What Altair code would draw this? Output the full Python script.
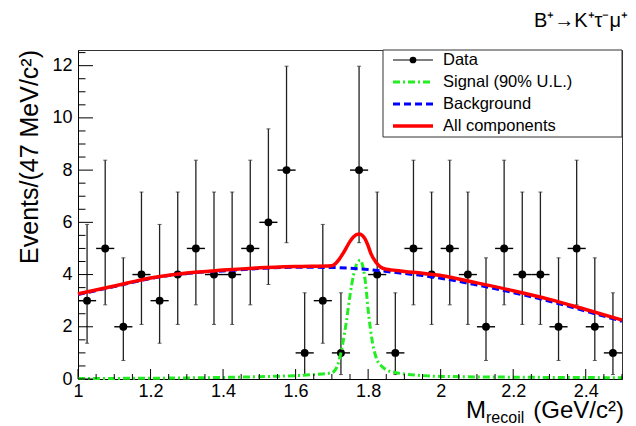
import altair as alt
import pandas as pd

# ---------------- data ----------------
x_centers = [1.025, 1.075, 1.125, 1.175, 1.225, 1.275, 1.325, 1.375, 1.425, 1.475,
             1.525, 1.575, 1.625, 1.675, 1.725, 1.775, 1.825, 1.875, 1.925, 1.975,
             2.025, 2.075, 2.125, 2.175, 2.225, 2.275, 2.325, 2.375, 2.425, 2.475]
counts = [3, 5, 2, 4, 3, 4, 5, 4, 4, 5,
          6, 8, 1, 3, 1, 8, 4, 1, 5, 4,
          5, 4, 2, 5, 4, 4, 2, 5, 2, 1]
err_low = [1.37, 2.84, 0.71, 2.09, 1.37, 2.09, 2.84, 2.09, 2.09, 2.84,
           3.62, 5.22, 0.17, 1.37, 0.17, 5.22, 2.09, 0.17, 2.84, 2.09,
           2.84, 2.09, 0.71, 2.84, 2.09, 2.09, 0.71, 2.84, 0.71, 0.17]
err_high = [5.92, 8.38, 4.64, 7.16, 5.92, 7.16, 8.38, 7.16, 7.16, 8.38,
            9.58, 11.98, 3.30, 5.92, 3.30, 11.98, 7.16, 3.30, 8.38, 7.16,
            8.38, 7.16, 4.64, 8.38, 7.16, 7.16, 4.64, 8.38, 4.64, 3.30]
bin_half = 0.025

sig_x = [1.0, 1.2, 1.4, 1.5, 1.6, 1.65, 1.7, 1.715, 1.72, 1.73, 1.74, 1.75, 1.76, 1.77,
         1.779, 1.787, 1.793, 1.80, 1.806, 1.812, 1.824, 1.838, 1.852, 1.875, 1.9,
         1.95, 2.0, 2.2, 2.5]
sig_y = [0.02, 0.03, 0.06, 0.09, 0.13, 0.17, 0.24, 0.5, 0.72, 1.35, 2.2, 3.2, 4.0, 4.45,
         4.55, 4.2, 3.65, 2.65, 1.95, 1.4, 0.75, 0.48, 0.34, 0.25, 0.19,
         0.13, 0.1, 0.07, 0.05]

bkg_x = [1.0, 1.1, 1.2, 1.3, 1.4, 1.5, 1.6, 1.7, 1.75, 1.8, 1.85, 1.9, 1.95, 2.0,
         2.1, 2.2, 2.3, 2.4, 2.5]
bkg_y = [3.23, 3.54, 3.85, 4.04, 4.14, 4.23, 4.28, 4.27, 4.24, 4.19, 4.12, 4.04, 3.96, 3.86,
         3.60, 3.31, 2.98, 2.60, 2.21]

all_x = [1.0, 1.1, 1.2, 1.3, 1.4, 1.5, 1.6, 1.7, 1.71, 1.72, 1.73, 1.74, 1.75, 1.76,
         1.775, 1.79, 1.80, 1.808, 1.82, 1.835, 1.85, 1.87, 1.9, 1.95, 2.0,
         2.1, 2.2, 2.3, 2.4, 2.5]
all_y = [3.26, 3.56, 3.87, 4.06, 4.17, 4.26, 4.31, 4.34, 4.42, 4.58, 4.79, 5.03, 5.27, 5.45,
         5.55, 5.4, 5.1, 4.79, 4.5, 4.28, 4.2, 4.17, 4.12, 4.05, 3.96,
         3.68, 3.38, 3.05, 2.66, 2.26]

x_major = [1.0, 1.2, 1.4, 1.6, 1.8, 2.0, 2.2, 2.4]
x_minor = [1.05, 1.1, 1.15, 1.25, 1.3, 1.35, 1.45, 1.5, 1.55, 1.65, 1.7, 1.75,
           1.85, 1.9, 1.95, 2.05, 2.1, 2.15, 2.25, 2.3, 2.35, 2.45, 2.5]
y_major = [0, 2, 4, 6, 8, 10, 12]
y_minor = [0.5, 1, 1.5, 2.5, 3, 3.5, 4.5, 5, 5.5, 6.5, 7, 7.5, 8.5, 9, 9.5,
           10.5, 11, 11.5, 12.5]

legend_labels = ["Data", "Signal (90% U.L.)", "Background", "All components"]

# ---------------- chart ----------------
W, H = 544, 329
FONT = "Liberation Sans"
xs = alt.Scale(domain=[1, 2.5], nice=False, zero=False)
ys = alt.Scale(domain=[0, 12.6], nice=False, zero=False)

x_axis = alt.Axis(values=x_major, format=".1~f", title=None, ticks=False, grid=False,
                  labelFontSize=18, labelPadding=3, labelFlush=False, labelFont=FONT,
                  labelColor="black", domainColor="black", domainWidth=1)
y_axis = alt.Axis(values=y_major, format="d", title=None, ticks=False, grid=False,
                  labelFontSize=18, labelPadding=6, labelFlush=False, labelFont=FONT,
                  labelColor="black", domainColor="black", domainWidth=1)

df = pd.DataFrame({
    "x": x_centers, "y": counts, "lo": err_low, "hi": err_high,
    "xl": [c - bin_half for c in x_centers], "xh": [c + bin_half for c in x_centers],
})
one = pd.DataFrame({"a": [0]})


def X(f):
    return alt.X(f, type="quantitative", scale=xs, axis=x_axis)


def Y(f):
    return alt.Y(f, type="quantitative", scale=ys, axis=y_axis)


vbars = alt.Chart(df).mark_rule(color="#222222", strokeWidth=1.3).encode(
    x=X("x"), y=Y("lo"), y2="hi")
hbars = alt.Chart(df).mark_rule(color="black", strokeWidth=1.4).encode(
    x=X("xl"), x2="xh", y=Y("y"))
caps_lo = alt.Chart(df).mark_tick(orient="horizontal", size=4, thickness=1, color="#222222").encode(
    x=X("x"), y=Y("lo"))
caps_hi = alt.Chart(df).mark_tick(orient="horizontal", size=4, thickness=1, color="#222222").encode(
    x=X("x"), y=Y("hi"))
points = alt.Chart(df).mark_circle(size=62, color="black", opacity=1).encode(
    x=X("x"), y=Y("y"))

sig = alt.Chart(pd.DataFrame({"x": sig_x, "y": sig_y})).mark_line(
    color="#22ee22", strokeWidth=3, strokeDash=[7, 3, 2, 3], interpolate="monotone").encode(
    x=X("x"), y=Y("y"))
bkg = alt.Chart(pd.DataFrame({"x": bkg_x, "y": bkg_y})).mark_line(
    color="#0000ff", strokeWidth=3, strokeDash=[7, 4], interpolate="monotone").encode(
    x=X("x"), y=Y("y"))
tot = alt.Chart(pd.DataFrame({"x": all_x, "y": all_y})).mark_line(
    color="#ff0000", strokeWidth=3.5, interpolate="monotone").encode(
    x=X("x"), y=Y("y"))

# inward ticks
xt_major = alt.Chart(pd.DataFrame({"v": x_major})).mark_rule(color="black", strokeWidth=1).encode(
    x=X("v"), y=alt.value(H), y2=alt.value(H - 10))
xt_minor = alt.Chart(pd.DataFrame({"v": x_minor})).mark_rule(color="black", strokeWidth=1).encode(
    x=X("v"), y=alt.value(H), y2=alt.value(H - 5))
yt_major = alt.Chart(pd.DataFrame({"v": y_major})).mark_rule(color="black", strokeWidth=1).encode(
    y=Y("v"), x=alt.value(0), x2=alt.value(15))
yt_minor = alt.Chart(pd.DataFrame({"v": y_minor})).mark_rule(color="black", strokeWidth=1).encode(
    y=Y("v"), x=alt.value(0), x2=alt.value(7.5))

# legend
LX0, LX1 = 305, W
ly = [10, 32, 54, 76]
leg_box = alt.Chart(one).mark_rect(fill="white", stroke="#333333", strokeWidth=1).encode(
    x=alt.value(LX0), x2=alt.value(LX1), y=alt.value(0), y2=alt.value(87))
leg_items = [leg_box]
styles = [
    dict(color="black", strokeWidth=1.2),
    dict(color="#22ee22", strokeWidth=3, strokeDash=[7, 3, 2, 3]),
    dict(color="#0000ff", strokeWidth=3, strokeDash=[7, 4]),
    dict(color="#ff0000", strokeWidth=3.5),
]
for i, (lab, st) in enumerate(zip(legend_labels, styles)):
    leg_items.append(alt.Chart(one).mark_rule(**st).encode(
        x=alt.value(315), x2=alt.value(355), y=alt.value(ly[i])))
    leg_items.append(alt.Chart(pd.DataFrame({"t": [lab]})).mark_text(
        align="left", baseline="middle", fontSize=16.5, font=FONT, color="black").encode(
        text="t:N", x=alt.value(365), y=alt.value(ly[i])))
leg_items.append(alt.Chart(one).mark_circle(size=45, color="black", opacity=1).encode(
    x=alt.value(335), y=alt.value(ly[0])))


# titles
def txt(s, x, y, size, align="left", angle=0):
    kw = dict(align=align, baseline="alphabetic", fontSize=size, font=FONT, color="black")
    if angle:
        kw["angle"] = angle
    return alt.Chart(pd.DataFrame({"t": [s]})).mark_text(**kw).encode(
        text="t:N", x=alt.value(x), y=alt.value(y))


titles = [
    txt("Events/(47 MeV/c²)", -40, 0, 25, align="right", angle=270),
    txt("M", 388, 368, 24),
    txt("recoil", 408, 373, 16),
    txt("(GeV/c²)", 546, 368, 24, align="right"),
    txt("B⁺→K⁺τ⁻μ⁺", 550, -23, 20, align="right"),
]

chart = alt.layer(
    vbars, hbars, caps_lo, caps_hi, points, sig, bkg, tot,
    xt_major, xt_minor, yt_major, yt_minor, *leg_items, *titles
).properties(
    width=W, height=H,
    autosize=alt.AutoSizeParams(type="none"),
    padding={"left": 78, "top": 50, "right": 14, "bottom": 47},
    background="white",
).configure_view(stroke="#333333", strokeWidth=1)

chart.save("out.html", embed_options={"renderer": "svg", "actions": False})
